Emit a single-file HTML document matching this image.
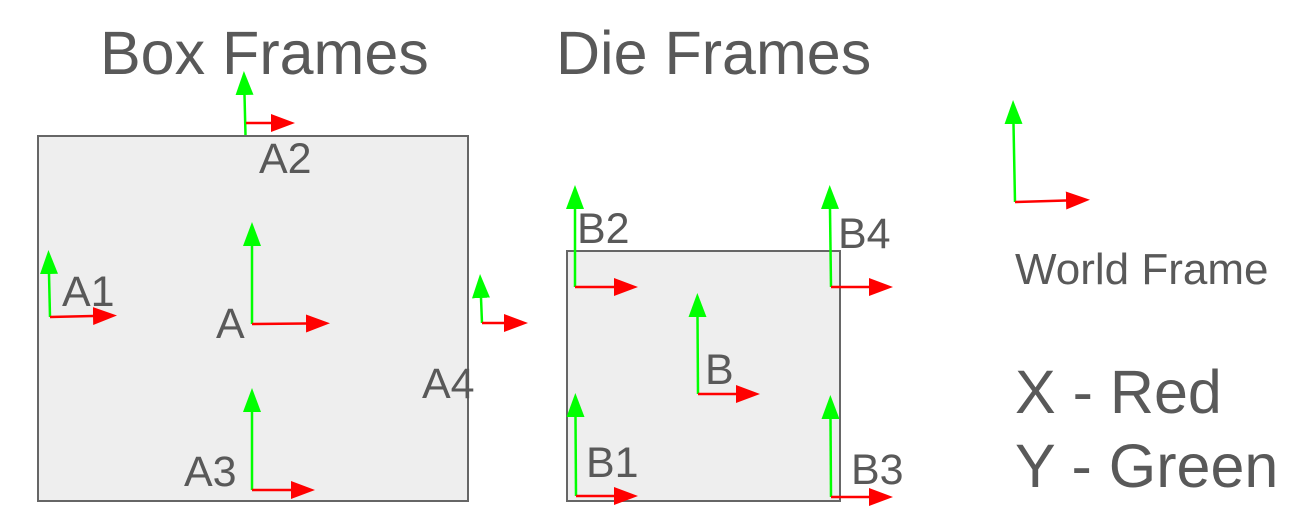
<!DOCTYPE html>
<html><head><meta charset="utf-8"><style>
html,body{margin:0;padding:0;background:#fff}
svg{display:block}
text{font-family:"Liberation Sans",sans-serif;fill:#595959}
</style></head><body>
<svg width="1303" height="515" viewBox="0 0 1303 515" xmlns="http://www.w3.org/2000/svg">
<defs>
<marker id="g" markerUnits="userSpaceOnUse" markerWidth="24" markerHeight="18" refX="0" refY="9" orient="auto"><polygon points="0,0 24,9 0,18" fill="#00ff00"/></marker>
<marker id="r" markerUnits="userSpaceOnUse" markerWidth="24" markerHeight="18" refX="0" refY="9" orient="auto"><polygon points="0,0 24,9 0,18" fill="#ff0000"/></marker>
</defs>
<rect x="38" y="136" width="430" height="365" fill="#eeeeee" stroke="#666" stroke-width="2"/>
<rect x="567" y="251" width="273" height="250" fill="#eeeeee" stroke="#666" stroke-width="2"/>
<g stroke-width="2.5" fill="none">
<line x1="245.5" y1="135" x2="244.5" y2="95" stroke="#00ff00" marker-end="url(#g)"/>
<line x1="246" y1="123" x2="271" y2="123" stroke="#ff0000" marker-end="url(#r)"/>
<line x1="50" y1="317" x2="49" y2="274" stroke="#00ff00" marker-end="url(#g)"/>
<line x1="50" y1="317" x2="93" y2="316" stroke="#ff0000" marker-end="url(#r)"/>
<line x1="252" y1="324" x2="252" y2="246" stroke="#00ff00" marker-end="url(#g)"/>
<line x1="252" y1="324" x2="306" y2="323.5" stroke="#ff0000" marker-end="url(#r)"/>
<line x1="482" y1="323" x2="481" y2="298" stroke="#00ff00" marker-end="url(#g)"/>
<line x1="482" y1="323" x2="504" y2="323" stroke="#ff0000" marker-end="url(#r)"/>
<line x1="252" y1="490" x2="252" y2="412" stroke="#00ff00" marker-end="url(#g)"/>
<line x1="252" y1="490" x2="291" y2="490" stroke="#ff0000" marker-end="url(#r)"/>
<line x1="575" y1="287" x2="575" y2="209" stroke="#00ff00" marker-end="url(#g)"/>
<line x1="575" y1="287" x2="614" y2="287" stroke="#ff0000" marker-end="url(#r)"/>
<line x1="831" y1="287" x2="830" y2="209" stroke="#00ff00" marker-end="url(#g)"/>
<line x1="831" y1="287" x2="869" y2="287" stroke="#ff0000" marker-end="url(#r)"/>
<line x1="698" y1="394" x2="697.5" y2="317" stroke="#00ff00" marker-end="url(#g)"/>
<line x1="698" y1="394" x2="736" y2="394" stroke="#ff0000" marker-end="url(#r)"/>
<line x1="576" y1="496" x2="575.5" y2="417" stroke="#00ff00" marker-end="url(#g)"/>
<line x1="576" y1="496" x2="614" y2="496" stroke="#ff0000" marker-end="url(#r)"/>
<line x1="831" y1="497" x2="830.5" y2="419" stroke="#00ff00" marker-end="url(#g)"/>
<line x1="831" y1="497" x2="869" y2="497" stroke="#ff0000" marker-end="url(#r)"/>
<line x1="1015" y1="202" x2="1013.5" y2="124" stroke="#00ff00" marker-end="url(#g)"/>
<line x1="1015" y1="202" x2="1066" y2="200.5" stroke="#ff0000" marker-end="url(#r)"/>
</g>
<text x="100" y="74" font-size="61">Box Frames</text>
<text x="556" y="74" font-size="61">Die Frames</text>
<g font-size="43">
<text x="259" y="173">A2</text>
<text x="62" y="306">A1</text>
<text x="216" y="338">A</text>
<text x="422" y="398">A4</text>
<text x="184" y="486">A3</text>
<text x="577" y="243">B2</text>
<text x="838" y="248">B4</text>
<text x="705" y="384">B</text>
<text x="586" y="477">B1</text>
<text x="851" y="484">B3</text>
</g>
<text x="1015" y="284" font-size="44">World Frame</text>
<text x="1015" y="413" font-size="61">X - Red</text>
<text x="1015" y="487" font-size="61">Y - Green</text>
</svg>
</body></html>
